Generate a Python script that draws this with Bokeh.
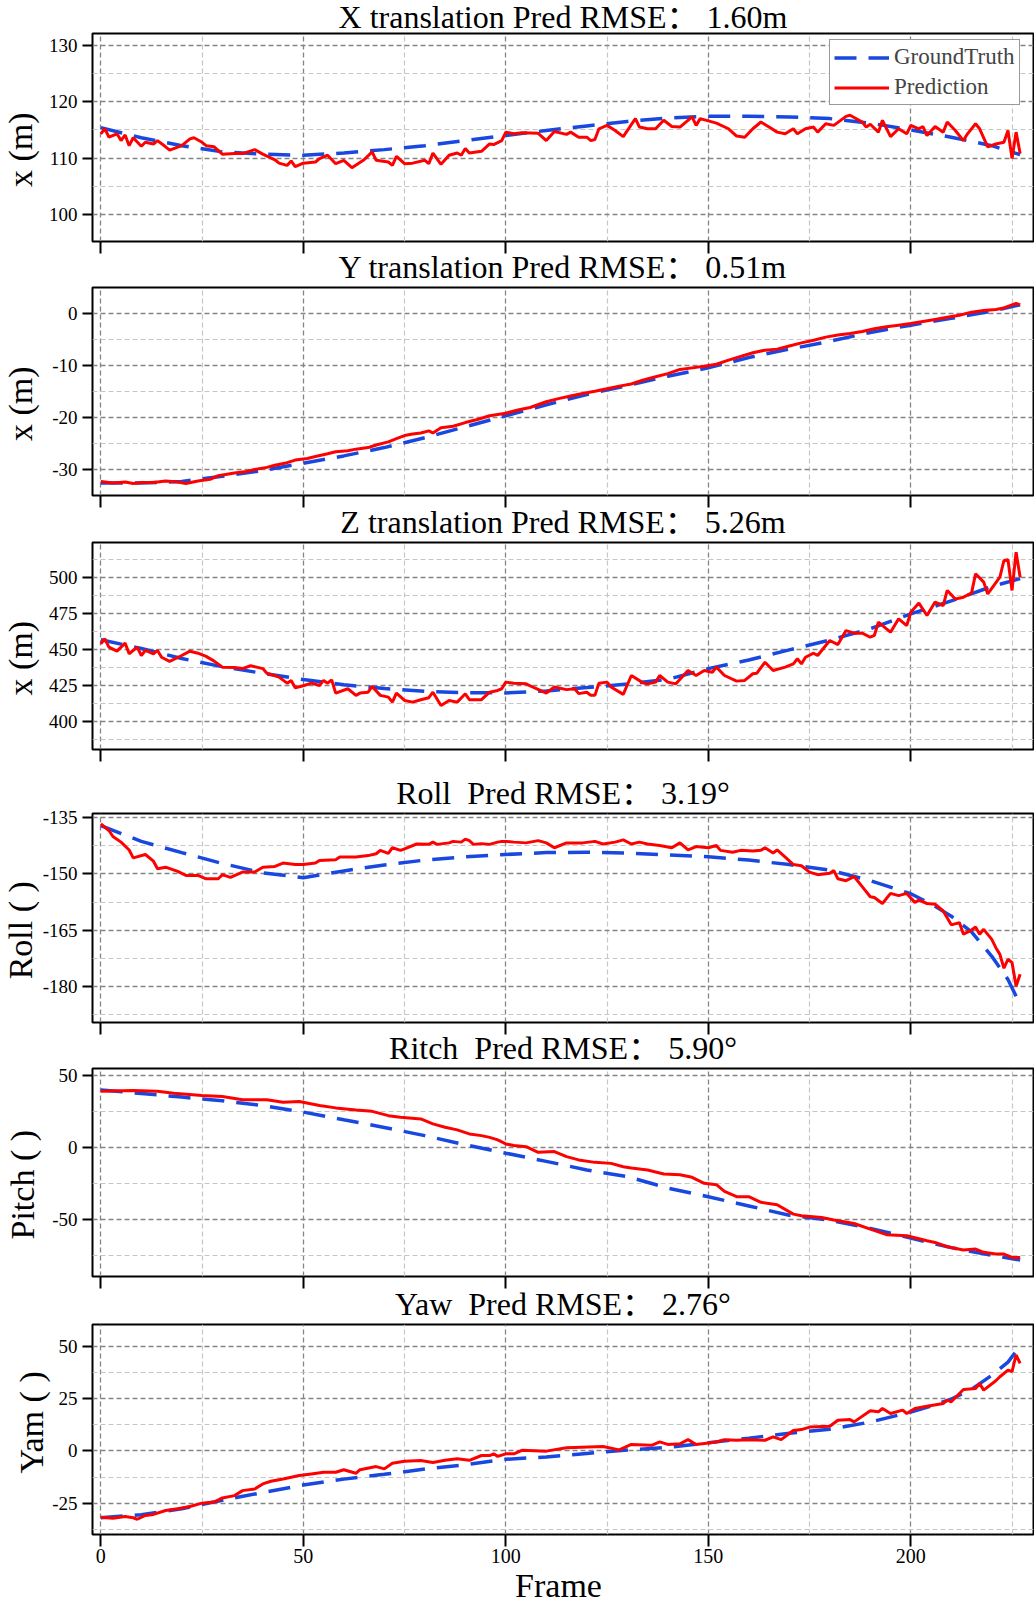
import math
from bokeh.plotting import figure
from bokeh.layouts import column, row
from bokeh.models import Range1d, FixedTicker, Legend, LegendItem, Title, Label
from bokeh.embed import file_html
from bokeh.resources import INLINE

# ---------------- data ----------------
X_TICKS = [0, 50, 100, 150, 200]
X_MINOR = [25, 75, 125, 175, 225]

GT_FRAMES = [0, 10, 20, 30, 40, 50, 60, 70, 80, 90, 100, 110, 120, 130, 140, 150,
             160, 170, 180, 190, 200, 210, 220, 227]

# X translation
X_GT = [115.4, 113.6, 112.2, 111.1, 110.7, 110.5, 110.9, 111.5, 112.2, 113.1, 114.0, 114.9,
        115.7, 116.5, 117.1, 117.4, 117.4, 117.3, 117.0, 116.2, 115.0, 113.7, 112.2, 110.6]
X_PRED_FRAMES = [0, 1, 2, 4, 5, 6, 7, 8, 10, 11, 13, 14, 16, 17, 20, 22, 23, 25, 26, 28,
                 30, 33, 35, 38, 40, 43, 44, 46, 47, 48, 50, 53, 54, 56, 58, 60, 62, 65, 67, 68,
                 71, 72, 73, 75, 77, 80, 81, 82, 84, 86, 88, 89, 90, 91, 94, 96, 97, 99, 100, 102,
                 104, 108, 110, 112, 115, 116, 118, 120, 121, 122, 123, 125, 127, 129, 132, 133,
                 135, 137, 139, 141, 143, 146, 147, 148, 152, 155, 157, 159, 161, 163, 165, 167,
                 169, 171, 172, 174, 176, 177, 179, 181, 184, 185, 188, 189, 190, 192, 193, 195,
                 197, 199, 200, 202, 203, 204, 206, 208, 209, 211, 213, 214, 216, 217, 219, 221,
                 223, 224, 225, 226, 227]
X_PRED = [114.3, 115.2, 113.7, 114.3, 113.1, 114.1, 112.2, 113.6, 112.1, 112.8,
          112.5, 113.1, 112.0, 111.4, 112.2, 113.4, 113.6, 112.8, 112.2, 112.0,
          110.7, 110.8, 110.8, 111.5, 110.7, 109.7, 109.1, 108.7, 109.5, 108.5,
          109.1, 109.3, 109.9, 110.5, 109.0, 109.6, 108.3, 109.7, 111.1, 109.6,
          109.3, 108.7, 110.3, 109.0, 109.1, 109.6, 109.0, 110.9, 108.9, 110.5,
          110.9, 110.5, 111.7, 110.9, 111.2, 112.5, 112.4, 113.1, 114.6, 114.3,
          114.5, 114.4, 113.1, 114.7, 114.2, 114.6, 113.7, 113.7, 113.1, 113.3,
          115.2, 115.8, 114.9, 113.8, 117.0, 115.5, 115.2, 115.2, 116.7, 115.6,
          115.5, 117.3, 115.8, 117.0, 116.2, 115.2, 113.9, 113.7, 115.2, 116.4,
          115.5, 114.6, 114.3, 115.2, 114.3, 115.2, 115.5, 114.6, 116.1, 115.8,
          117.4, 117.6, 116.4, 115.5, 116.0, 114.6, 116.7, 113.8, 115.2, 114.3,
          115.8, 115.2, 115.6, 114.0, 115.6, 114.6, 116.4, 114.9, 113.1, 114.3,
          116.1, 115.2, 112.0, 112.5, 112.8, 114.9, 109.9, 114.6, 110.8]

# Y translation
Y_GT = [-32.6, -32.6, -32.3, -31.3, -30.2, -28.8, -27.4, -25.8, -23.9, -21.8, -19.7, -17.6,
        -15.6, -13.9, -12.1, -10.5, -8.5, -6.9, -5.4, -3.7, -2.3, -1.0, 0.4, 1.6]
Y_PRED_FRAMES = [0, 3, 6, 8, 10, 13, 16, 19, 21, 24, 27, 29, 33, 36, 38, 41, 43, 46, 48, 51,
                 53, 56, 58, 61, 63, 66, 68, 71, 73, 75, 77, 79, 81, 82, 84, 87, 90, 93, 96, 100,
                 103, 106, 110, 113, 116, 119, 122, 125, 128, 131, 134, 137, 140, 143, 146, 149,
                 152, 155, 158, 161, 164, 167, 170, 173, 176, 179, 182, 185, 188, 191, 194, 197,
                 200, 203, 206, 209, 212, 215, 218, 221, 223, 225, 226, 227]
Y_PRED = [-32.3, -32.6, -32.4, -32.7, -32.5, -32.5, -32.2, -32.4, -32.7, -32.2,
          -31.9, -31.2, -30.7, -30.4, -30.0, -29.6, -29.2, -28.7, -28.2, -27.9,
          -27.5, -27.0, -26.6, -26.4, -26.1, -25.8, -25.3, -24.7, -24.1, -23.5,
          -23.2, -23.0, -22.6, -23.0, -22.0, -21.7, -21.0, -20.4, -19.7, -19.2,
          -18.6, -18.1, -17.0, -16.4, -15.9, -15.4, -15.0, -14.5, -14.0, -13.6,
          -12.8, -12.2, -11.6, -10.8, -10.5, -10.2, -9.8, -9.0, -8.3, -7.6,
          -7.1, -6.9, -6.3, -5.7, -5.2, -4.6, -4.2, -3.9, -3.5, -3.0,
          -2.6, -2.3, -2.0, -1.6, -1.2, -0.8, -0.4, 0.2, 0.5, 0.7,
          1.0, 1.6, 1.9, 1.6]

# Z translation
Z_GT = [456.5, 450.5, 443.5, 437.8, 433.2, 428.9, 425.3, 422.6, 420.7, 419.8, 419.6, 421.0,
        423.3, 425.8, 429.0, 436.5, 442.5, 449.5, 456.3, 464.2, 474.5, 483.5, 493.5, 499.0]
Z_PRED_FRAMES = [0, 1, 2, 4, 6, 7, 9, 10, 11, 13, 14, 15, 17, 20, 22, 24, 26, 28, 30, 33,
                 35, 37, 40, 41, 44, 46, 47, 48, 50, 52, 54, 55, 56, 57, 58, 61, 63, 64, 66, 67,
                 69, 71, 72, 73, 75, 77, 79, 81, 82, 84, 86, 88, 90, 91, 94, 96, 98, 99, 100, 102,
                 105, 107, 110, 112, 115, 117, 118, 120, 121, 122, 123, 125, 126, 129, 131, 134,
                 135, 137, 138, 140, 142, 145, 147, 149, 151, 152, 154, 157, 159, 161, 162, 164,
                 166, 169, 171, 172, 173, 174, 176, 177, 178, 180, 182, 184, 186, 188, 190, 191,
                 192, 194, 195, 197, 199, 200, 202, 204, 206, 208, 209, 211, 213, 215, 216, 218,
                 219, 222, 223, 224, 225, 226, 227]
Z_PRED = [453.7, 457.2, 451.4, 448.6, 454.2, 446.8, 451.4, 445.6, 449.1, 446.8,
          449.1, 444.4, 441.5, 445.6, 448.6, 447.2, 445.0, 441.7, 437.5, 437.2,
          436.5, 438.5, 436.5, 433.3, 430.6, 426.4, 428.3, 423.2, 424.6, 426.4,
          424.8, 428.3, 426.4, 428.7, 419.5, 422.5, 417.9, 419.5, 420.1, 424.1,
          417.9, 416.7, 413.2, 419.5, 414.4, 413.2, 414.9, 416.3, 420.1, 410.9,
          414.4, 413.2, 419.0, 414.9, 414.9, 420.1, 421.3, 422.5, 427.1, 426.4,
          425.9, 423.2, 419.5, 423.7, 421.9, 422.5, 419.1, 420.1, 417.9, 417.9,
          426.4, 427.1, 423.7, 418.6, 431.7, 426.4, 425.9, 427.1, 431.7, 427.1,
          425.9, 435.2, 431.7, 435.2, 434.0, 437.5, 431.7, 427.8, 428.3, 432.9,
          433.3, 440.9, 435.2, 437.5, 439.8, 443.3, 439.8, 444.4, 447.2, 445.6,
          449.1, 456.0, 453.2, 462.9, 461.1, 461.1, 458.3, 459.5, 468.8, 464.1,
          461.8, 471.1, 466.4, 475.7, 482.0, 473.4, 482.7, 480.3, 490.8, 484.9,
          486.1, 488.9, 502.4, 496.6, 488.4, 500.0, 511.6, 512.1, 490.8, 517.4,
          500.0]

# Roll
R_GT_FRAMES = [0, 10, 20, 30, 40, 50, 60, 70, 80, 90, 100, 110, 120, 130, 140, 150, 160,
               170, 180, 190, 200, 205, 210, 215, 220, 224, 226]
R_GT = [-137.1, -141.3, -144.3, -147.2, -149.7, -151.0, -149.2, -147.6, -146.3, -145.4,
        -144.8, -144.3, -144.2, -144.4, -144.9, -145.4, -146.3, -147.5, -149.0, -151.8,
        -155.3, -158.0, -161.3, -165.5, -172.0, -178.2, -182.7]
R_PRED_FRAMES = [0, 2, 3, 5, 7, 8, 11, 13, 14, 16, 19, 21, 24, 26, 29, 30, 32, 35, 38, 40,
                 43, 45, 48, 50, 53, 54, 58, 59, 63, 66, 68, 69, 71, 72, 74, 75, 78, 81, 82, 83,
                 86, 87, 89, 90, 91, 92, 94, 96, 98, 99, 100, 102, 105, 108, 110, 112, 115, 119,
                 122, 124, 127, 129, 131, 133, 135, 138, 141, 143, 145, 147, 150, 152, 153, 156,
                 158, 161, 163, 164, 166, 167, 169, 171, 173, 175, 177, 180, 181, 182, 184, 186,
                 188, 190, 191, 193, 195, 197, 199, 201, 202, 204, 206, 208, 210, 212, 213, 215,
                 216, 217, 218, 220, 221, 222, 223, 224, 225, 226, 227]
R_PRED = [-136.6, -138.4, -140.0, -141.5, -143.6, -145.7, -144.8, -146.6, -148.6, -148.2,
          -149.3, -150.4, -150.4, -151.3, -151.3, -150.2, -150.9, -149.5, -149.5, -148.2,
          -148.0, -147.1, -147.5, -147.5, -147.1, -146.4, -146.2, -145.5, -145.5, -145.1,
          -144.6, -143.7, -144.5, -143.0, -143.7, -143.3, -142.0, -142.1, -141.5, -142.1,
          -141.7, -141.3, -141.5, -140.7, -141.1, -142.1, -141.9, -142.1, -141.5, -141.3,
          -141.3, -141.5, -141.7, -141.1, -141.7, -143.0, -141.7, -141.7, -141.3, -142.0,
          -141.5, -140.9, -142.0, -141.5, -142.0, -142.4, -143.0, -141.7, -143.6, -142.7,
          -143.0, -142.4, -143.7, -144.2, -143.7, -143.9, -143.7, -143.0, -144.4, -143.6,
          -145.5, -147.5, -147.8, -149.5, -150.2, -149.8, -149.1, -151.3, -151.8, -150.7,
          -153.4, -156.1, -156.3, -157.9, -155.2, -155.8, -155.2, -157.6, -157.0, -157.9,
          -158.1, -159.9, -163.6, -163.0, -166.1, -165.0, -164.2, -166.1, -164.8, -167.5,
          -169.7, -171.5, -175.2, -172.8, -173.7, -180.0, -176.8]

# Pitch
P_GT = [40.0, 37.5, 35.0, 32.4, 29.1, 24.6, 19.2, 13.9, 8.2, 1.8, -4.0, -9.7,
        -15.7, -20.3, -28.3, -34.3, -40.7, -47.2, -50.6, -56.3, -63.1, -69.7, -75.0, -78.3]
P_PRED_FRAMES = [0, 8, 14, 18, 25, 30, 35, 41, 45, 49, 54, 58, 63, 67, 71, 74, 79, 82, 85, 88,
                 91, 94, 96, 98, 100, 102, 105, 108, 112, 115, 118, 122, 126, 129, 131, 135,
                 139, 143, 146, 149, 152, 154, 157, 160, 163, 167, 171, 173, 178, 181, 186, 190,
                 194, 199, 204, 206, 209, 213, 216, 218, 221, 223, 225, 227]
P_PRED = [39.1, 39.6, 39.1, 37.7, 36.1, 35.4, 33.1, 33.1, 31.4, 32.0,
          29.1, 27.5, 26.1, 25.1, 22.1, 21.0, 19.8, 16.4, 14.0, 12.2,
          9.4, 8.2, 7.0, 5.2, 2.4, 1.3, 0.5, -3.4, -2.9, -6.4,
          -8.7, -10.4, -11.1, -13.4, -14.3, -15.7, -18.5, -19.0, -20.8, -25.0,
          -25.9, -30.6, -34.3, -34.3, -38.2, -39.9, -46.4, -47.5, -48.7, -50.5,
          -52.9, -56.8, -60.7, -61.4, -64.9, -66.1, -69.1, -71.4, -70.7, -73.0,
          -74.2, -74.2, -76.5, -76.5]

# Yaw
YW_GT_FRAMES = [0, 10, 20, 30, 40, 50, 60, 70, 80, 90, 100, 110, 120, 130, 140, 150, 160,
                170, 180, 190, 200, 205, 210, 215, 220, 224, 227]
YW_GT = [-32.0, -30.5, -27.7, -23.6, -19.9, -16.3, -13.5, -11.2, -8.7, -6.6, -4.0, -2.9,
         -1.2, 0.4, 1.7, 3.9, 6.1, 8.5, 10.4, 13.8, 18.6, 21.5, 24.8, 29.5, 36.2, 42.5, 50.2]
YW_PRED_FRAMES = [0, 3, 6, 8, 9, 11, 13, 16, 19, 22, 25, 28, 30, 33, 35, 38, 40, 42, 45, 49,
                  52, 55, 58, 60, 63, 64, 68, 70, 72, 75, 79, 82, 85, 88, 91, 94, 96, 97, 98, 100,
                  102, 104, 110, 115, 124, 128, 131, 136, 138, 140, 143, 145, 147, 152, 154, 157,
                  160, 164, 166, 168, 171, 173, 175, 180, 182, 185, 186, 190, 192, 193, 195, 198,
                  199, 201, 204, 208, 209, 210, 213, 216, 217, 218, 221, 222, 224, 225, 226, 227]
YW_PRED = [-31.7, -32.2, -31.4, -32.0, -32.7, -30.9, -30.4, -28.5, -27.7, -26.6,
           -25.0, -24.5, -22.5, -21.4, -19.0, -18.2, -15.8, -14.5, -13.4, -11.8,
           -11.0, -10.2, -10.2, -9.0, -10.7, -9.0, -7.5, -8.6, -5.9, -4.9,
           -4.6, -5.5, -4.5, -3.8, -4.5, -2.2, -2.2, -1.4, -2.6, -1.4,
           -1.4, 0.3, -0.1, 1.5, 2.1, 0.5, 3.1, 2.7, 4.3, 3.1,
           3.4, 5.4, 3.1, 4.3, 5.4, 5.1, 5.4, 5.1, 6.7, 5.4,
           9.8, 10.2, 11.4, 11.8, 14.7, 15.0, 13.9, 19.2, 18.7, 20.3,
           17.9, 19.5, 17.9, 20.3, 21.4, 22.7, 24.3, 23.5, 29.4, 29.9,
           32.3, 29.1, 33.6, 35.5, 38.7, 37.9, 45.9, 41.9]

TITLES = ["X translation Pred RMSE\uff1a 1.60m",
          "Y translation Pred RMSE\uff1a 0.51m",
          "Z translation Pred RMSE\uff1a 5.26m",
          "Roll\u00a0 Pred RMSE\uff1a 3.19\u00b0",
          "Ritch\u00a0 Pred RMSE\uff1a 5.90\u00b0",
          "Yaw\u00a0 Pred RMSE\uff1a 2.76\u00b0"]
YLABELS = ["x (m)", "x (m)", "x (m)", "Roll ( )", "Pitch ( )", "Yam ( )"]
XLABEL = "Frame"
YTICKS = [[100, 110, 120, 130], [-30, -20, -10, 0], [400, 425, 450, 475, 500],
          [-180, -165, -150, -135], [-50, 0, 50], [-25, 0, 25, 50]]
YMINOR = [[105, 115, 125], [-35, -25, -15, -5], [387.5, 412.5, 437.5, 462.5, 487.5, 512.5],
          [-187.5, -172.5, -157.5, -142.5], [-75, -25, 25], [-37.5, -12.5, 12.5, 37.5]]
YRANGES = [(95.2, 132.1), (-35.0, 4.93), (380.3, 524.1), (-189.7, -133.85), (-89.8, 54.9),
           (-40.0, 60.5)]
SERIES = [(GT_FRAMES, X_GT, X_PRED_FRAMES, X_PRED),
          (GT_FRAMES, Y_GT, Y_PRED_FRAMES, Y_PRED),
          (GT_FRAMES, Z_GT, Z_PRED_FRAMES, Z_PRED),
          (R_GT_FRAMES, R_GT, R_PRED_FRAMES, R_PRED),
          (GT_FRAMES, P_GT, P_PRED_FRAMES, P_PRED),
          (YW_GT_FRAMES, YW_GT, YW_PRED_FRAMES, YW_PRED)]

# ---------------- layout / style ----------------
FONT_T = "'Liberation Serif', 'Noto Sans CJK SC'"
SERIF = "Liberation Serif"
BLUE = "#1848e0"
RED = "#ff0000"
W = 1034
LEFT = 92
RIGHT = 1
TOP = 48
LAB_W = 60
FRAME_TOPS = [33, 287, 542, 813, 1068, 1324]
FRAME_H = [208, 208, 207, 209, 208, 210]
BOTTOMS = [16, 16, 16, 16, 16, 70]
YLAB_CX = [20, 20, 20, 20, 21.5, 30.5]
TITLE_STANDOFF = [-2, 5, 5, 5, 5, 5]


def blank_fig(width, height):
    f = figure(width=width, height=height, x_range=Range1d(0, width),
               y_range=Range1d(0, height), output_backend="svg", toolbar_location=None,
               title=None, x_axis_location=None, y_axis_location=None,
               min_border=0, min_border_left=0, min_border_right=0,
               min_border_top=0, min_border_bottom=0,
               background_fill_alpha=0.0, border_fill_alpha=0.0)
    f.outline_line_color = None
    f.grid.visible = False
    return f


items = []
prev_end = 0
for i in range(6):
    fh = FRAME_H[i]
    bot = BOTTOMS[i]
    H = TOP + fh + bot
    fig_top = FRAME_TOPS[i] - TOP
    mtop = fig_top - prev_end
    prev_end = FRAME_TOPS[i] + fh + bot
    gtf, gt, prf, pr = SERIES[i]
    assert len(gtf) == len(gt) and len(prf) == len(pr)
    p = figure(width=W, height=H, x_range=Range1d(-2.05, 230.3),
               y_range=Range1d(*YRANGES[i]), output_backend="svg", toolbar_location=None,
               title=None, min_border_left=LEFT, min_border_right=RIGHT,
               min_border_top=TOP, min_border_bottom=bot, margin=(0, 0, 0, -LAB_W),
               background_fill_color="white", border_fill_alpha=0.0)
    p.outline_line_color = "black"
    p.outline_line_width = 2

    p.xaxis.ticker = FixedTicker(ticks=X_TICKS, minor_ticks=[])
    p.yaxis.ticker = FixedTicker(ticks=YTICKS[i], minor_ticks=[])
    p.xgrid.ticker = FixedTicker(ticks=X_TICKS, minor_ticks=X_MINOR)
    p.ygrid.ticker = FixedTicker(ticks=YTICKS[i], minor_ticks=YMINOR[i])
    for g in (p.xgrid, p.ygrid):
        g.grid_line_color = "#858585"
        g.grid_line_dash = "5 3"
        g.grid_line_width = 1.3
        g.minor_grid_line_color = "#c6c6c6"
        g.minor_grid_line_dash = "5 3"
        g.minor_grid_line_width = 1.2

    for ax in (p.xaxis, p.yaxis):
        ax.axis_line_color = None
        ax.major_tick_in = 0
        ax.major_tick_line_width = 2
        ax.major_tick_line_color = "black"
        ax.minor_tick_line_color = None
        ax.major_label_text_font = SERIF
        ax.major_label_text_color = "black"
    p.yaxis.major_tick_out = 10
    p.yaxis.major_label_text_font_size = "19px"
    p.yaxis.major_label_standoff = 5
    p.yaxis.major_label_overrides = {t: str(t) for t in YTICKS[i]}
    p.xaxis.major_tick_out = 12
    if i < 5:
        p.xaxis.major_label_overrides = {t: "" for t in X_TICKS}
        p.xaxis.major_label_text_font_size = "0px"
        p.xaxis.major_label_standoff = 0
    else:
        p.xaxis.major_label_text_font_size = "20px"
        p.xaxis.major_label_standoff = 2

    p.add_layout(Title(text=TITLES[i], align="center", text_font=FONT_T,
                       text_font_size="32px", text_font_style="normal",
                       text_color="black", standoff=TITLE_STANDOFF[i]), "above")

    g_r = p.line(gtf, gt, line_color=BLUE, line_width=3.5, line_dash="22 12")
    p_r = p.line(prf, pr, line_color=RED, line_width=3)

    if i == 0:
        legend = Legend(items=[LegendItem(label="GroundTruth", renderers=[g_r]),
                               LegendItem(label="Prediction", renderers=[p_r])],
                        location=(737, 136), margin=0, padding=4, spacing=4,
                        glyph_width=55, glyph_height=25, label_height=25, label_standoff=5,
                        label_text_font=SERIF, label_text_font_size="23px",
                        border_line_color="#333333", border_line_width=1.3,
                        background_fill_color="white", background_fill_alpha=1.0)
        p.add_layout(legend)

    # y-axis label drawn in a transparent strip that sits under the left border
    lf = blank_fig(LAB_W, H)
    lf.add_layout(Label(x=YLAB_CX[i], y=bot + fh / 2, text=YLABELS[i], angle=math.pi / 2,
                        text_font=SERIF, text_font_size="34px", text_color="black",
                        text_align="center", text_baseline="middle"))
    items.append(row(lf, p, spacing=0, margin=(mtop, 0, 0, 0)))

# x-axis label strip overlaid on the bottom border of the last panel
XL_H = 44
xf = blank_fig(W, XL_H)
xf.add_layout(Label(x=558, y=19, text=XLABEL, text_font=SERIF, text_font_size="34px",
                    text_color="black", text_align="center", text_baseline="middle"))
xf.margin = (-XL_H, 0, 0, 0)
items.append(xf)

layout = column(*items, spacing=0)
open("out.html", "w").write(file_html(layout, INLINE))
